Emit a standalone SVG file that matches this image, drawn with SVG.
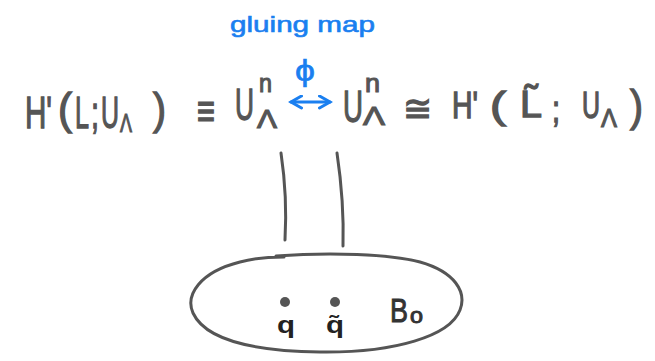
<svg xmlns="http://www.w3.org/2000/svg" width="655" height="361" viewBox="0 0 655 361">
<style>
text{font-family:"Liberation Sans","DejaVu Sans",sans-serif}
.m{fill:#555;font-size:44px;stroke:#555;stroke-width:1.3}
.r{fill:#555;font-size:36px;stroke:#555;stroke-width:1.3}
.s{font-size:26px;stroke-width:1.1}
.b{fill:#1a7ff0;stroke:#1a7ff0;stroke-width:0.6}
.k{fill:#222;font-weight:bold;font-size:24px}
.ln{fill:none;stroke:#555;stroke-width:3;stroke-linecap:round}
</style>
<defs>
<marker id="ah" viewBox="0 0 10 10" refX="8" refY="5" markerWidth="5" markerHeight="5" orient="auto-start-reverse">
<path d="M1,1 L8,5 L1,9" fill="none" stroke="#1a7ff0" stroke-width="2" stroke-linecap="round"/>
</marker>
</defs>
<rect width="655" height="361" fill="#fff"/>
<g id="label-gluing">
<text class="b" x="230" y="32" font-size="22" textLength="145" lengthAdjust="spacingAndGlyphs">gluing map</text>
<text class="b" x="295" y="81" font-size="30" textLength="20" lengthAdjust="spacingAndGlyphs">ϕ</text>
</g>
<g id="left-side">
<text class="m" x="25" y="128" textLength="27" lengthAdjust="spacingAndGlyphs">H'</text>
<text class="m" x="58" y="124" textLength="14" lengthAdjust="spacingAndGlyphs">(</text>
<text class="m" x="75" y="128" textLength="14" lengthAdjust="spacingAndGlyphs">L</text>
<text class="m" x="91" y="128" textLength="8" lengthAdjust="spacingAndGlyphs">;</text>
<text class="m"><tspan x="101" y="128" textLength="18" lengthAdjust="spacingAndGlyphs">U</tspan><tspan class="s" x="120" y="132" textLength="12" lengthAdjust="spacingAndGlyphs">Λ</tspan></text>
<text class="m" x="153" y="124" textLength="13" lengthAdjust="spacingAndGlyphs">)</text>
<text class="m" x="197" y="126" textLength="18" lengthAdjust="spacingAndGlyphs">≡</text>
<text class="m"><tspan x="235" y="120" textLength="19" lengthAdjust="spacingAndGlyphs">U</tspan><tspan class="s" x="259" y="92" textLength="13" lengthAdjust="spacingAndGlyphs">n</tspan><tspan class="s" x="257" y="128" textLength="20" lengthAdjust="spacingAndGlyphs">Λ</tspan></text>
</g>
<g id="right-side">
<text class="m"><tspan x="343" y="122" textLength="20" lengthAdjust="spacingAndGlyphs">U</tspan><tspan class="s" x="365" y="92" textLength="15" lengthAdjust="spacingAndGlyphs">n</tspan><tspan class="s" x="363" y="125" textLength="22" lengthAdjust="spacingAndGlyphs">Λ</tspan></text>
<text class="r" x="403" y="121" textLength="29" lengthAdjust="spacingAndGlyphs">≅</text>
<text class="r" x="452" y="118" textLength="26" lengthAdjust="spacingAndGlyphs">H'</text>
<text class="r" x="490" y="118" textLength="16" lengthAdjust="spacingAndGlyphs">(</text>
<text class="r" x="520" y="117" textLength="22" lengthAdjust="spacingAndGlyphs">L̃</text>
<text class="r" x="552" y="122" textLength="8" lengthAdjust="spacingAndGlyphs">;</text>
<text class="r"><tspan x="582" y="118" textLength="18" lengthAdjust="spacingAndGlyphs">U</tspan><tspan class="s" x="601" y="127" font-size="24" textLength="16" lengthAdjust="spacingAndGlyphs">Λ</tspan></text>
<text class="m" x="630" y="121" font-size="40" textLength="13" lengthAdjust="spacingAndGlyphs">)</text>
</g>
<g id="connectors">
<path d="M291,102 L330,102" fill="none" stroke="#1a7ff0" stroke-width="3" stroke-linecap="round" marker-start="url(#ah)" marker-end="url(#ah)"/>
<path class="ln" d="M281,153 C285,180 287,205 285,240"/>
<path class="ln" d="M337,153 C341,180 344,210 343,246"/>
</g>
<g id="base-B0">
<path class="ln" d="M276,256 C330,252 390,254 420,262 C455,272 467,292 460,310 C450,336 395,353 320,352 C250,351 205,339 193,313 C185,295 200,272 240,262 C255,258 268,257 284,257"/>
<circle cx="285" cy="302" r="5" fill="#555"/>
<circle cx="335" cy="302" r="5" fill="#555"/>
<text class="k" x="277" y="333" textLength="18" lengthAdjust="spacingAndGlyphs">q</text>
<text class="k" x="326" y="333" textLength="18" lengthAdjust="spacingAndGlyphs">q̃</text>
<text fill="#333" stroke="#333" stroke-width="1"><tspan x="390" y="322" font-size="34" textLength="18" lengthAdjust="spacingAndGlyphs">B</tspan><tspan x="410" y="323" font-size="22" textLength="13" lengthAdjust="spacingAndGlyphs">o</tspan></text>
</g>
</svg>
